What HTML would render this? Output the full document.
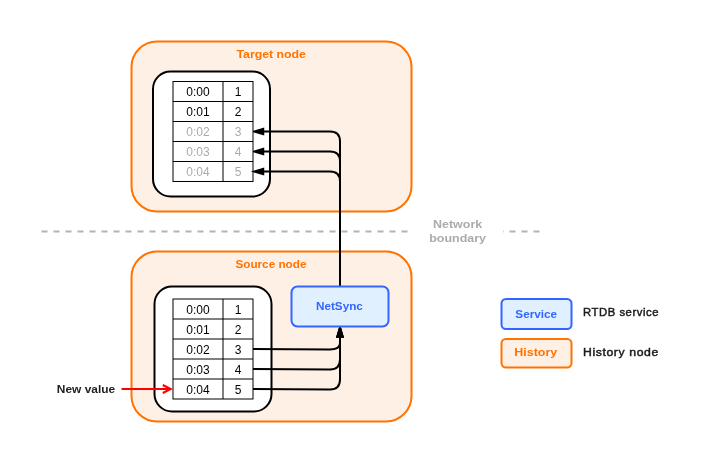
<!DOCTYPE html>
<html lang="en">
<head>
<meta charset="utf-8">
<title>NetSync history diagram</title>
<style>
html,body{margin:0;padding:0;background:#fff;}
body{width:702px;height:462px;overflow:hidden;}
svg{display:block;will-change:transform;}
.lbl{font-family:"Liberation Sans", sans-serif;font-size:11.5px;font-weight:bold;text-anchor:middle;}
.leg{font-family:"Liberation Sans", sans-serif;font-size:11px;font-weight:normal;text-anchor:middle;stroke:#1a1a1a;stroke-width:0.45px;letter-spacing:0.55px;}
.cell{font-family:"Liberation Sans",sans-serif;font-size:12px;text-anchor:middle;}
</style>
</head>
<body>
<svg width="702" height="462" viewBox="0 0 702 462">
<!-- Target node container -->
<rect x="131.5" y="41.5" width="280" height="170" rx="25.5" fill="#FFF0E5" stroke="#FF7300" stroke-width="2"/>
<text transform="translate(271.20 58) scale(1.0719 1)" class="lbl" fill="#FF7300">Target node</text>
<rect x="153" y="71.5" width="117" height="125" rx="17.55" fill="#fff" stroke="#000" stroke-width="2"/>
<!-- Source node container -->
<rect x="131.5" y="251.5" width="280" height="170" rx="25.5" fill="#FFF0E5" stroke="#FF7300" stroke-width="2"/>
<text transform="translate(270.93 268) scale(1.0224 1)" class="lbl" fill="#FF7300">Source node</text>
<rect x="154.5" y="286.5" width="117" height="125" rx="17.55" fill="#fff" stroke="#000" stroke-width="2"/>
<!-- Network boundary -->
<path d="M41.5 231.5H541.5" fill="none" stroke="#B3B3B3" stroke-width="2" stroke-dasharray="6 6"/>
<rect x="412" y="217" width="91" height="28" fill="#fff"/>
<text transform="translate(457.6 228) scale(1.085 1)" class="lbl" fill="#ABABAB"><tspan x="1.6" y="0">Network</tspan> <tspan x="0" y="14">boundary</tspan></text>
<!-- NetSync to target rows 0:02 and 0:03 -->
<path d="M340 286.5V141.5Q340 131.5 330 131.5H263.236" fill="none" stroke="#000" stroke-width="2" stroke-miterlimit="10"/>
<path d="M254.336 131.5L263.236 134.167L263.236 128.833Z" fill="#000" stroke="#000" stroke-width="2" stroke-miterlimit="10"/>
<path d="M340 286.5V161.5Q340 151.5 330 151.5H263.236" fill="none" stroke="#000" stroke-width="2" stroke-miterlimit="10"/>
<path d="M254.336 151.5L263.236 154.167L263.236 148.833Z" fill="#000" stroke="#000" stroke-width="2" stroke-miterlimit="10"/>
<!-- Target history table -->
<rect x="173" y="81.5" width="80" height="100" fill="#fff" stroke="none"/>
<rect x="173" y="81.5" width="80" height="100" fill="none" stroke="#000" stroke-width="1"/>
<path d="M173 101.5H253M173 121.5H253M173 141.5H253M173 161.5H253M223 81.5V181.5" fill="none" stroke="#000" stroke-width="1"/>
<text x="198" y="95.5" class="cell" fill="#000">0:00</text>
<text x="238" y="95.5" class="cell" fill="#000">1</text>
<text x="198" y="115.5" class="cell" fill="#000">0:01</text>
<text x="238" y="115.5" class="cell" fill="#000">2</text>
<text x="198" y="135.5" class="cell" fill="#ABABAB">0:02</text>
<text x="238" y="135.5" class="cell" fill="#ABABAB">3</text>
<text x="198" y="155.5" class="cell" fill="#ABABAB">0:03</text>
<text x="238" y="155.5" class="cell" fill="#ABABAB">4</text>
<text x="198" y="175.5" class="cell" fill="#ABABAB">0:04</text>
<text x="238" y="175.5" class="cell" fill="#ABABAB">5</text>
<!-- NetSync to target row 0:04 -->
<path d="M340 286.5V181.5Q340 171.5 330 171.5H263.236" fill="none" stroke="#000" stroke-width="2" stroke-miterlimit="10"/>
<path d="M254.336 171.5L263.236 174.167L263.236 168.833Z" fill="#000" stroke="#000" stroke-width="2" stroke-miterlimit="10"/>
<!-- Source history table -->
<rect x="173" y="299" width="80" height="100" fill="#fff" stroke="none"/>
<rect x="173" y="299" width="80" height="100" fill="none" stroke="#000" stroke-width="1"/>
<path d="M173 319H253M173 339H253M173 359H253M173 379H253M223 299V399" fill="none" stroke="#000" stroke-width="1"/>
<text x="198" y="314" class="cell" fill="#000">0:00</text>
<text x="238" y="314" class="cell" fill="#000">1</text>
<text x="198" y="334" class="cell" fill="#000">0:01</text>
<text x="238" y="334" class="cell" fill="#000">2</text>
<text x="198" y="354" class="cell" fill="#000">0:02</text>
<text x="238" y="354" class="cell" fill="#000">3</text>
<text x="198" y="374" class="cell" fill="#000">0:03</text>
<text x="238" y="374" class="cell" fill="#000">4</text>
<text x="198" y="394" class="cell" fill="#000">0:04</text>
<text x="238" y="394" class="cell" fill="#000">5</text>
<!-- Source rows to NetSync -->
<path d="M253 349L330.00 349.443Q340 349.5 340 343.118V336.736" fill="none" stroke="#000" stroke-width="2" stroke-miterlimit="10"/>
<path d="M340 327.836L337.333 336.736L342.667 336.736Z" fill="#000" stroke="#000" stroke-width="2" stroke-miterlimit="10"/>
<path d="M253 369L330.00 369.443Q340 369.5 340 359.500V336.736" fill="none" stroke="#000" stroke-width="2" stroke-miterlimit="10"/>
<path d="M340 327.836L337.333 336.736L342.667 336.736Z" fill="#000" stroke="#000" stroke-width="2" stroke-miterlimit="10"/>
<path d="M253 389L330.00 389.443Q340 389.5 340 379.500V336.736" fill="none" stroke="#000" stroke-width="2" stroke-miterlimit="10"/>
<path d="M340 327.836L337.333 336.736L342.667 336.736Z" fill="#000" stroke="#000" stroke-width="2" stroke-miterlimit="10"/>
<!-- NetSync service -->
<rect x="291.5" y="286.5" width="97" height="40" rx="6" fill="#E1F0FF" stroke="#3366FF" stroke-width="2"/>
<text transform="translate(339.40 309.8) scale(1.0212 1)" class="lbl" fill="#3366FF">NetSync</text>
<!-- New value arrow -->
<path d="M121.5 389H168.528" fill="none" stroke="#FF0000" stroke-width="2"/>
<path d="M162.764 385.0L170.764 389L162.764 393.0" fill="none" stroke="#FF0000" stroke-width="2" stroke-miterlimit="10"/>
<text transform="translate(85.96 393) scale(1.0392 1)" class="lbl" fill="#1f1f1f">New value</text>
<!-- Legend -->
<rect x="501.5" y="299" width="70" height="30" rx="4.5" fill="#E1F0FF" stroke="#3366FF" stroke-width="2"/>
<text transform="translate(536.24 317.8) scale(1.0225 1)" class="lbl" fill="#3366FF">Service</text>
<rect x="501.5" y="339" width="70" height="28.5" rx="4.4" fill="#FFF0E5" stroke="#FF7300" stroke-width="2"/>
<text transform="translate(535.78 356) scale(1.0869 1)" class="lbl" fill="#FF7300">History</text>
<text transform="translate(621.01 315.8) scale(1.0255 1)" class="leg" fill="#1a1a1a">RTDB service</text>
<text transform="translate(620.95 355.9) scale(1.1127 1)" class="leg" fill="#1a1a1a">History node</text>
</svg>
</body>
</html>
